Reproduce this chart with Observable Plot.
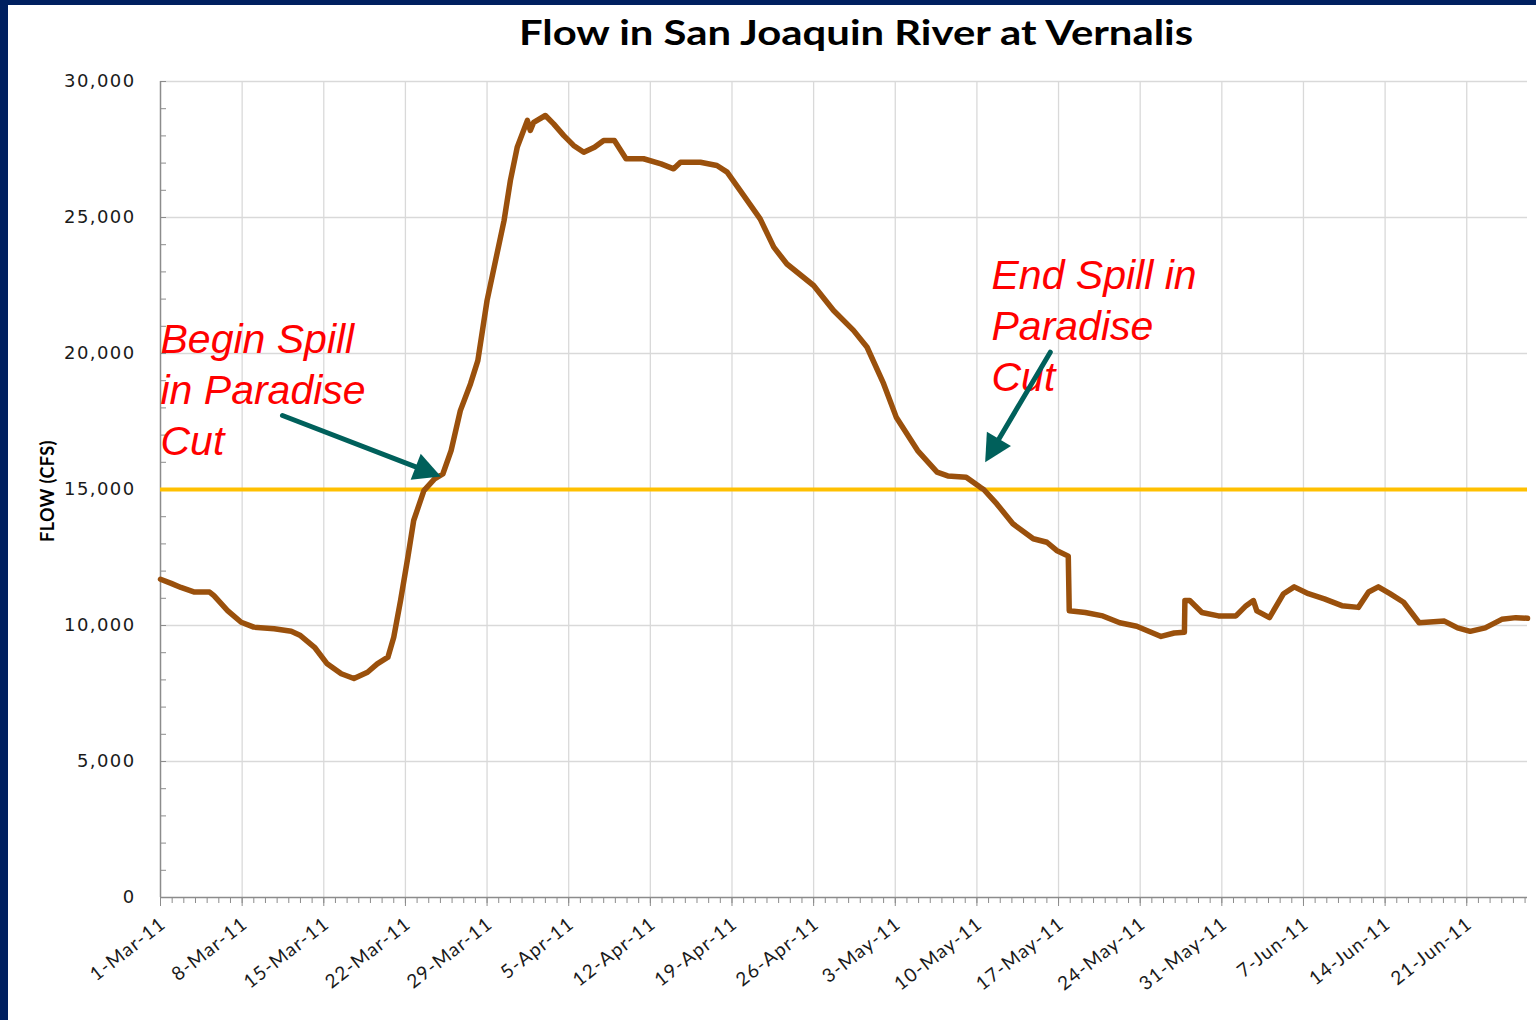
<!DOCTYPE html>
<html>
<head>
<meta charset="utf-8">
<script src="https://cdn.jsdelivr.net/npm/d3@7"></script>
<script src="https://cdn.jsdelivr.net/npm/@observablehq/plot@0.6"></script>
<style>
html,body{margin:0;padding:0;background:#fff;}
#page{position:relative;width:1536px;height:1020px;overflow:hidden;background:#fff;}
#navyLeft{position:absolute;left:0;top:0;width:8px;height:1020px;background:#002060;z-index:2;}
#navyTop{position:absolute;left:0;top:0;width:1536px;height:5px;background:#002060;z-index:2;}
#title{position:absolute;left:0;top:11px;width:1712px;text-align:center;white-space:nowrap;
  font-family:Lato,"Noto Sans",sans-serif;font-weight:700;font-size:34px;color:#000;
  transform:scaleX(1.23);transform-origin:856px 0;}
#ylabel{position:absolute;left:47px;top:491px;transform:translate(-50%,-50%) rotate(-90deg);
  white-space:nowrap;font-family:Lato,"Noto Sans",sans-serif;font-weight:700;font-size:18px;color:#000;letter-spacing:0.4px;}
#chart{position:absolute;left:0;top:60px;}
#chart svg{overflow:visible;}
#chart g[aria-label="y-axis tick label"] text{letter-spacing:1.4px;}
#chart g[aria-label="x-axis tick label"] text{letter-spacing:1.2px;}
#chart g[aria-label="annotation"] text{letter-spacing:0.6px;}
</style>
</head>
<body>
<div id="page">
  <div id="navyLeft"></div>
  <div id="navyTop"></div>
  <div id="title">Flow in San Joaquin River at Vernalis</div>
  <div id="ylabel">FLOW (CFS)</div>
  <div id="chart"></div>
</div>
<script>
// ---- data (date-hour, flow in cfs) ----
const dates = [
  "2011-03-01T00","2011-03-01T22","2011-03-02T18","2011-03-03T22","2011-03-05T05","2011-03-05T14",
  "2011-03-06T18","2011-03-07T22","2011-03-09T00","2011-03-10T18","2011-03-12T05","2011-03-13T00",
  "2011-03-14T05","2011-03-15T07","2011-03-16T12","2011-03-17T14","2011-03-18T18","2011-03-19T14",
  "2011-03-20T12","2011-03-21T00","2011-03-21T14","2011-03-22T05","2011-03-22T17","2011-03-23T14",
  "2011-03-24T12","2011-03-25T05","2011-03-25T22","2011-03-26T17","2011-03-27T14","2011-03-28T05",
  "2011-03-29T00","2011-03-30T11","2011-03-31T00","2011-03-31T14","2011-04-01T11","2011-04-01T17",
  "2011-04-02T00","2011-04-03T00","2011-04-03T17","2011-04-04T14","2011-04-05T10","2011-04-06T07",
  "2011-04-07T05","2011-04-08T00","2011-04-08T22","2011-04-09T22","2011-04-11T10","2011-04-12T22",
  "2011-04-14T00","2011-04-14T14","2011-04-16T07","2011-04-17T17","2011-04-18T14","2011-04-19T17",
  "2011-04-21T10","2011-04-22T14","2011-04-23T17","2011-04-26T00","2011-04-27T17","2011-04-29T10",
  "2011-04-30T14","2011-05-02T00","2011-05-03T02","2011-05-04T22","2011-05-06T14","2011-05-07T12",
  "2011-05-09T02","2011-05-10T07","2011-05-10T14","2011-05-11T17","2011-05-13T02","2011-05-14T20",
  "2011-05-16T00","2011-05-16T20","2011-05-17T20","2011-05-17T22","2011-05-19T07","2011-05-20T19",
  "2011-05-22T06","2011-05-23T17","2011-05-25T19","2011-05-26T22","2011-05-27T19","2011-05-27T20",
  "2011-05-28T06","2011-05-29T07","2011-05-30T17","2011-06-01T05","2011-06-02T02","2011-06-02T17",
  "2011-06-03T00","2011-06-04T02","2011-06-05T07","2011-06-06T05","2011-06-07T10","2011-06-08T19",
  "2011-06-10T07","2011-06-11T17","2011-06-12T14","2011-06-13T10","2011-06-14T10","2011-06-15T14",
  "2011-06-16T22","2011-06-19T02","2011-06-20T05","2011-06-21T07","2011-06-22T14","2011-06-24T00",
  "2011-06-25T05","2011-06-26T05"
];
const flows = [
  11700,11550,11400,11230,11230,11100,
  10550,10120,9940,9880,9790,9630,
  9200,8590,8225,8050,8280,8590,
  8835,9570,10920,12510,13860,14960,
  15390,15570,16430,17900,18890,19740,
  21950,24890,26360,27580,28570,28200,
  28500,28750,28440,28010,27650,27400,
  27580,27830,27830,27160,27160,26970,
  26790,27030,27030,26910,26670,25990,
  24950,23910,23290,22500,21580,20850,
  20230,18890,17660,16430,15640,15500,
  15450,15080,15000,14470,13740,13190,
  13060,12760,12550,10540,10478,10352,
  10100,9975,9598,9723,9750,10918,
  10918,10478,10352,10352,10729,10918,
  10540,10290,11169,11420,11169,10980,
  10729,10666,11232,11420,11169,10855,
  10100,10163,9912,9786,9912,10226,
  10289,10264
];
const spillThreshold = 15000;

const weekTickLabels = ["1-Mar-11","8-Mar-11","15-Mar-11","22-Mar-11","29-Mar-11","5-Apr-11","12-Apr-11",
  "19-Apr-11","26-Apr-11","3-May-11","10-May-11","17-May-11","24-May-11","31-May-11","7-Jun-11",
  "14-Jun-11","21-Jun-11"];
const yTickLabels = [0, 5000, 10000, 15000, 20000, 25000, 30000];
const yMinorTicks = d3.range(0, 30001, 1000);

const annoText = ["Begin Spill\nin Paradise\nCut", "End Spill in\nParadise\nCut"];
const annoDate = ["2011-03-01T00", "2011-05-11T06"];
const annoFlow = [21360, 23724];

const arrowFromDate = ["2011-03-11T11", "2011-05-16T07"];
const arrowFromFlow = [17720, 20048];
const arrowToDate = ["2011-03-25T01", "2011-05-10T17"];
const arrowToFlow = [15478, 16004];

// ---- build ----
const parseT = d3.utcParse("%Y-%m-%dT%H");
const parseTick = d3.utcParse("%d-%b-%y");
const data = dates.map((d, i) => ({date: parseT(d), flow: flows[i]}));
const weekTicks = weekTickLabels.map(parseTick);
const xStart = weekTicks[0];
const xEnd = data[data.length - 1].date;
const dailyTicks = d3.utcDay.range(xStart, xEnd);

const W = 1536, H = 960, mT = 21, mL = 160, mR = 9, mB = 123;
const xDomain = [xStart, xEnd], yDomain = [0, 30000];

const annotations = annoText.map((t, i) => ({text: t, date: parseT(annoDate[i]), flow: annoFlow[i]}));
const sx = Plot.scale({x: {type: "utc", domain: xDomain, range: [mL, W - mR]}});
const sy = Plot.scale({y: {domain: yDomain, range: [H - mB, mT]}});
const arrows = arrowFromDate.map((d, i) => {
  const a = {x1: parseT(d), y1: arrowFromFlow[i], x2: parseT(arrowToDate[i]), y2: arrowToFlow[i]};
  const dx = sx.apply(a.x2) - sx.apply(a.x1), dy = sy.apply(a.y2) - sy.apply(a.y1);
  a.angle = Math.atan2(dx, -dy) * 180 / Math.PI;
  return a;
});

const fmtTick = d3.utcFormat("%-d-%b-%y");
const grey = "#8c8c8c";
const teal = "#00605b";

const chart = Plot.plot({
  width: W, height: H, marginTop: mT, marginLeft: mL, marginRight: mR, marginBottom: mB,
  style: {background: "transparent", overflow: "visible"},
  x: {type: "utc", domain: xDomain},
  y: {domain: yDomain},
  marks: [
    Plot.gridY(yTickLabels.slice(1), {stroke: "#d9d9d9", strokeOpacity: 1, strokeWidth: 1.3}),
    Plot.gridX(weekTicks.slice(1), {stroke: "#d9d9d9", strokeOpacity: 1, strokeWidth: 1.3}),
    Plot.axisY(yMinorTicks, {tickSize: 6, dx: 6, fill: "none", stroke: grey, label: null}),
    Plot.axisY(yTickLabels, {tickSize: 0, tickPadding: 25, tickFormat: d3.format(","), fontSize: 18,
      fontFamily: "DejaVu Sans", fill: "#1a1a1a", label: null}),
    Plot.axisX(dailyTicks, {tickSize: 6, fill: "none", stroke: grey, label: null}),
    Plot.axisX(weekTicks, {tickSize: 9, fill: "none", stroke: grey, label: null}),
    Plot.axisX(weekTicks, {tickSize: 0, tickPadding: 24, tickRotate: -38, dx: 3, tickFormat: fmtTick,
      fontSize: 19, fontFamily: "Lato", fill: "#1a1a1a", label: null}),
    Plot.ruleY([0], {stroke: grey, strokeWidth: 1.5}),
    Plot.ruleX([xStart], {stroke: grey, strokeWidth: 1.5}),
    Plot.ruleY([spillThreshold], {stroke: "#ffc000", strokeWidth: 4}),
    Plot.line(data, {x: "date", y: "flow", stroke: "#9a500c", strokeWidth: 5.5}),
    Plot.text(annotations, {x: "date", y: "flow", text: "text", textAnchor: "start", lineAnchor: "top",
      fontSize: 41, fontStyle: "italic", fontFamily: "Liberation Sans", fill: "#ff0000", lineHeight: 1.25,
      ariaLabel: "annotation"}),
    Plot.arrow(arrows, {x1: "x1", y1: "y1", x2: "x2", y2: "y2", stroke: teal, strokeWidth: 5,
      headLength: 0, insetEnd: 20}),
    Plot.vector(arrows, {x: "x2", y: "y2", rotate: "angle", shape: "spike", anchor: "end", length: 27, r: 14,
      fill: teal, stroke: "none"})
  ]
});
document.getElementById("chart").appendChild(chart);
</script>
</body>
</html>
